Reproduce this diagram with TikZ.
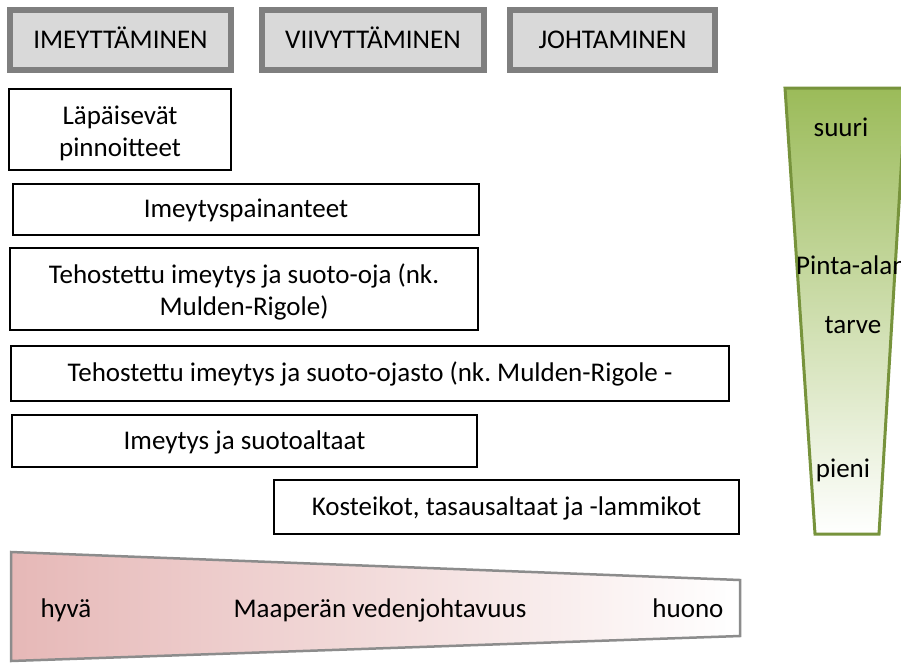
\documentclass[tikz,border=0pt]{standalone}
\usepackage{fontspec}
\setmainfont{Carlito}
\frenchspacing
\definecolor{hdrfill}{HTML}{D9D9D9}
\definecolor{hdrline}{HTML}{7F7F7F}
\definecolor{grtop}{HTML}{9BBB59}
\definecolor{grmid}{HTML}{C9DAA9}
\definecolor{grline}{HTML}{77933C}
\definecolor{pinkl}{HTML}{E6B8B7}
\definecolor{pinkline}{HTML}{8C8C8C}
\begin{document}
\begin{tikzpicture}[x=1pt,y=-1pt,
  every node/.style={font=\fontsize{27}{32.5}\selectfont, inner sep=0pt, align=center},
  oneline/.style={text height=21pt, text depth=5pt},
  hdrbox/.style={draw=hdrline, fill=hdrfill, line width=6pt, rectangle, oneline},
  itembox/.style={draw=black, fill=white, line width=2pt, rectangle},
  lbl/.style={anchor=center, oneline}]
\useasboundingbox (0,0) rectangle (901,662);
% header boxes
\node[hdrbox, minimum width=221pt, minimum height=60pt] (h1) at (120.5,40) {IMEYTTÄMINEN};
\node[hdrbox, minimum width=222pt, minimum height=60pt] (h2) at (373,40) {VIIVYTTÄMINEN};
\node[hdrbox, minimum width=205pt, minimum height=60pt] (h3) at (612.5,40) {JOHTAMINEN};
% item boxes
\node[itembox, minimum width=222pt, minimum height=81pt] (b1) at (120,129.5) {};
\node (t1) at ([yshift=-4pt]b1.center) {Läpäisevät\\pinnoitteet};
\node[itembox, oneline, minimum width=466pt, minimum height=51pt] (b2) at (246,209.5) {Imeytyspainanteet};
\node[itembox, minimum width=468pt, minimum height=82pt] (b3) at (244,289) {};
\node (t3) at ([yshift=-3pt]b3.center) {Tehostettu imeytys ja suoto-oja (nk.\\Mulden-Rigole)};
\node[itembox, oneline, minimum width=718pt, minimum height=55pt] (b4) at (370,373.5) {Tehostettu imeytys ja suoto-ojasto (nk. Mulden-Rigole -};
\node[itembox, oneline, minimum width=465pt, minimum height=52pt] (b5) at (244.5,441) {Imeytys ja suotoaltaat};
\node[itembox, oneline, minimum width=465pt, minimum height=54pt] (b6) at (506.5,507) {Kosteikot, tasausaltaat ja -lammikot};
% green trapezoid (area need)
\shade[top color=grtop, middle color=grmid, bottom color=white] (785,88) -- (906,88) -- (879,534) -- (815,534) -- cycle;
\draw[grline, line width=3pt, line join=miter] (785,88) -- (906,88) -- (879,534) -- (815,534) -- cycle;
\node[lbl] (suuri) at (841,128) {suuri};
\node[lbl, anchor=west] (pinta) at (796,266) {Pinta-alan};
\node[lbl] (tarve) at (853,325) {tarve};
\node[lbl] (pieni) at (843,469) {pieni};
% pink trapezoid (soil permeability)
\shade[left color=pinkl, right color=white] (11,552) -- (740,580) -- (740,636) -- (11,661) -- cycle;
\draw[pinkline, line width=2.5pt, line join=miter] (11,552) -- (740,580) -- (740,636) -- (11,661) -- cycle;
\node[lbl] (hyva) at (66,609) {hyvä};
\node[lbl] (maap) at (380,609) {Maaperän vedenjohtavuus};
\node[lbl] (huono) at (688,609) {huono};
\end{tikzpicture}
\end{document}
